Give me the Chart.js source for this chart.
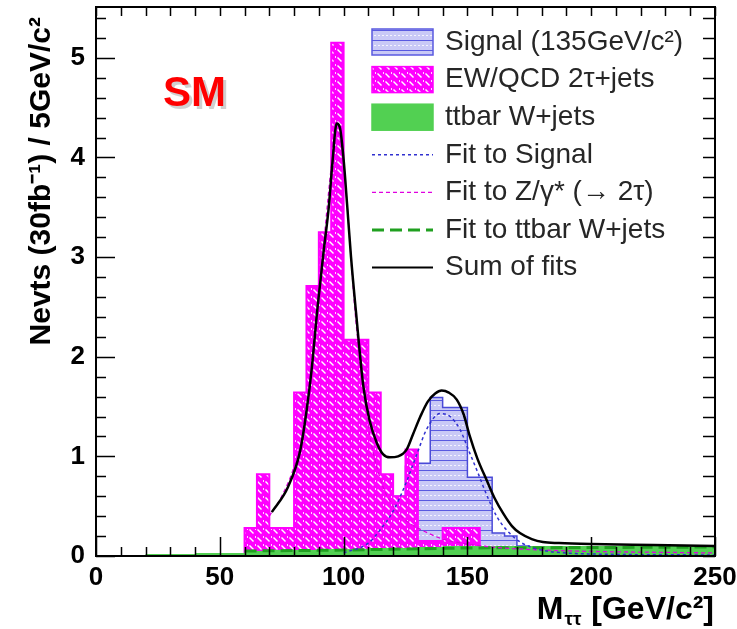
<!DOCTYPE html>
<html lang="en">
<head>
<meta charset="UTF-8">
<title>M tautau</title>
<script src="https://cdn.jsdelivr.net/npm/chart.js"></script>
<style>
  html, body { margin: 0; padding: 0; background: #fff; }
</style>
</head>
<body>
<canvas id="myChart" width="737" height="629"></canvas>
<script>
// histogram bins: low edge in GeV/c2, every bin is 5 wide
var binWidth = 5;

var signalLow  = [105, 110, 115, 120, 125, 130, 135, 140, 145, 150, 155, 160, 165, 170, 175];
var signalVals = [0.2, 0.3, 0.6, 0.6, 0.9, 0.93, 1.59, 1.49, 1.49, 0.79, 0.79, 0.23, 0.2, 0.1, 0.06];

var ewqcdLow  = [60, 65, 70, 75, 80, 85, 90, 95, 100, 105, 110, 115, 120, 125, 130, 135, 140, 145, 150];
var ewqcdVals = [0.28, 0.82, 0.28, 0.28, 1.64, 2.71, 3.25, 5.15, 2.17, 2.17, 1.64, 0.82, 0.6, 1.07, 0.15, 0.15, 0.28, 0.28, 0.28];

var ttbarLow  = [0, 5, 10, 15, 20, 25, 30, 35, 40, 45, 50, 55, 60, 65, 70, 75, 80, 85, 90, 95,
                 100, 105, 110, 115, 120, 125, 130, 135, 140, 145, 150, 155, 160, 165, 170, 175, 180, 185, 190, 195,
                 200, 205, 210, 215, 220, 225, 230, 235, 240, 245];
var ttbarVals = [0.01, 0.01, 0.01, 0.01, 0.02, 0.02, 0.02, 0.02, 0.03, 0.03, 0.03, 0.03, 0.05, 0.05, 0.06, 0.06, 0.06, 0.06, 0.07, 0.07,
                 0.07, 0.07, 0.08, 0.08, 0.08, 0.08, 0.09, 0.09, 0.1, 0.1, 0.1, 0.1, 0.1, 0.1, 0.1, 0.1, 0.1, 0.1, 0.1, 0.1,
                 0.1, 0.1, 0.1, 0.1, 0.1, 0.1, 0.1, 0.1, 0.1, 0.1];

// fit curves
var sumX = [71, 77.5, 82.5, 85, 87, 89.5, 92, 94, 95.5, 97.2, 98.5, 100, 101.5, 103, 105, 108, 110.5, 113.5, 116, 118.7, 122, 125.5, 128, 131, 134, 137, 139.6, 142.5, 145.7, 148.5, 151, 154, 157.8, 161, 164.4, 168, 171.2, 176, 180.5, 187, 200, 225, 250];
var sumY = [0.44, 0.69, 1.06, 1.45, 1.85, 2.5, 3.07, 3.5, 3.95, 4.34, 4.3, 3.98, 3.5, 3.0, 2.45, 1.7, 1.36, 1.13, 1.02, 0.99, 1.0, 1.07, 1.22, 1.4, 1.55, 1.63, 1.66, 1.64, 1.57, 1.42, 1.2, 0.98, 0.76, 0.58, 0.43, 0.3, 0.23, 0.17, 0.14, 0.13, 0.12, 0.11, 0.1];

var sigFitX = [100, 110, 115, 120, 125, 130, 133.5, 139, 143, 147, 151, 154, 158, 162, 167, 172, 180, 190, 200, 250];
var sigFitY = [0.03, 0.13, 0.27, 0.45, 0.72, 1.05, 1.27, 1.43, 1.4, 1.27, 1.03, 0.85, 0.6, 0.39, 0.23, 0.13, 0.06, 0.03, 0.02, 0.01];

var zFitX = [70, 75, 80, 85, 90, 95, 97.2, 100, 105, 110, 115, 120, 125, 130, 135, 140, 150, 160, 180, 250];
var zFitY = [0.4, 0.6, 0.9, 1.42, 2.6, 3.9, 4.28, 3.92, 2.35, 1.3, 0.76, 0.5, 0.36, 0.28, 0.22, 0.17, 0.12, 0.09, 0.06, 0.03];

var ttFitX = [60, 100, 150, 200, 250];
var ttFitY = [0.05, 0.06, 0.08, 0.085, 0.09];

var xTicks = [0, 50, 100, 150, 200, 250];
var yTicks = [0, 1, 2, 3, 4, 5];

var legendLabels = ['Signal (135GeV/c\u00B2)', 'EW/QCD 2\u03C4+jets', 'ttbar W+jets', 'Fit to Signal',
                    'Fit to Z/\u03B3* (\u2192 2\u03C4)', 'Fit to ttbar W+jets', 'Sum of fits'];

var fontFam = '"Liberation Sans", Arial, Helvetica, sans-serif';

function stepPts(lows, vals) {
  var pts = [{x: 0, y: 0}];
  for (var i = 0; i < lows.length; i++) pts.push({x: lows[i], y: vals[i]});
  pts.push({x: lows[lows.length - 1] + binWidth, y: 0});
  pts.push({x: 250, y: 0});
  return pts;
}
function curvePts(xs, ys) {
  return xs.map(function (x, i) { return {x: x, y: ys[i]}; });
}

// fill patterns
function pinkPattern() {
  var c = document.createElement('canvas'); c.width = 8; c.height = 8;
  var g = c.getContext('2d');
  g.fillStyle = '#ff00ff'; g.fillRect(0, 0, 8, 8);
  g.strokeStyle = '#ffffff'; g.lineWidth = 1.4;
  g.beginPath(); g.moveTo(1.5, 1.5); g.lineTo(5.5, 5.5); g.stroke();
  g.fillStyle = '#ffd6ff'; g.fillRect(7, 0, 1, 2);
  return g.createPattern(c, 'repeat');
}
function bluePattern() {
  var c = document.createElement('canvas'); c.width = 24; c.height = 10;
  var g = c.getContext('2d');
  g.fillStyle = 'rgba(195,195,245,0.9)'; g.fillRect(0, 0, 24, 10);
  g.fillStyle = '#5a5ae0'; g.fillRect(0, 0, 24, 1);
  g.fillStyle = 'rgba(255,255,255,0.8)';
  for (var k = 2; k < 24; k += 4) g.fillRect(k, 5, 2, 1);
  return g.createPattern(c, 'repeat');
}
var pinkFill = pinkPattern();
var blueFill = bluePattern();
var greenFill = '#52d052';

function line(label, xs, ys, color, width, dash) {
  return {
    label: label, data: curvePts(xs, ys), borderColor: color, borderWidth: width,
    borderDash: dash, pointRadius: 0, fill: false, cubicInterpolationMode: 'monotone'
  };
}
function hist(label, lows, vals, fillStyle, edge, width) {
  return {
    label: label, data: stepPts(lows, vals), stepped: true, fill: 'origin',
    backgroundColor: fillStyle, borderColor: edge, borderWidth: width, pointRadius: 0
  };
}

// frame with inward ticks on all four sides
var frameTicks = {
  id: 'frameTicks',
  afterDatasetsDraw: function (chart) {
    var ctx = chart.ctx, a = chart.chartArea, xs = chart.scales.x, ys = chart.scales.y;
    ctx.save();
    ctx.strokeStyle = '#000'; ctx.lineWidth = 1.5;
    ctx.beginPath();
    for (var i = 0; i <= 27; i++) {
      var py = Math.round(ys.getPixelForValue(i * 0.2)) + 0.5;
      var major = i % 5 === 0;
      ctx.moveTo(a.left, py); ctx.lineTo(a.left + (major ? 19 : 10), py);
      ctx.moveTo(a.right, py); ctx.lineTo(a.right - 12, py);
    }
    for (var j = 0; j <= 25; j++) {
      var px = Math.round(xs.getPixelForValue(j * 10)) + 0.5;
      var maj = j % 5 === 0;
      ctx.moveTo(px, a.bottom); ctx.lineTo(px, a.bottom - (maj ? 19 : 9));
      ctx.moveTo(px, a.top); ctx.lineTo(px, a.top + 9);
    }
    ctx.stroke();
    ctx.lineWidth = 2;
    ctx.strokeRect(a.left, a.top, a.right - a.left, a.bottom - a.top);
    ctx.restore();
  }
};

// legend, axis titles and the SM tag
var extras = {
  id: 'extras',
  afterDraw: function (chart) {
    var ctx = chart.ctx;
    ctx.save();

    // legend
    var x0 = 372, x1 = 433, tx = 445, y0 = 42, dy = 37.6;
    ctx.font = '28px ' + fontFam;
    ctx.textBaseline = 'middle';
    legendLabels.forEach(function (lab, i) {
      var yc = y0 + i * dy;
      if (i < 3) {
        var fills = [blueFill, pinkFill, greenFill], edges = ['#5a5ae0', '#ff00ff', '#52d052'];
        ctx.fillStyle = fills[i];
        ctx.fillRect(x0, yc - 13, x1 - x0, 26);
        ctx.strokeStyle = edges[i]; ctx.lineWidth = 1.5; ctx.setLineDash([]);
        ctx.strokeRect(x0, yc - 13, x1 - x0, 26);
      } else {
        var cols = ['#3030d0', '#e000e0', '#20a020', '#000'];
        var ws = [1.5, 1.3, 3, 2];
        var ds = [[3, 3], [4, 3], [12, 6], []];
        ctx.strokeStyle = cols[i - 3]; ctx.lineWidth = ws[i - 3]; ctx.setLineDash(ds[i - 3]);
        ctx.beginPath(); ctx.moveTo(x0, yc); ctx.lineTo(x1, yc); ctx.stroke();
        ctx.setLineDash([]);
      }
      ctx.fillStyle = '#262626';
      ctx.textAlign = 'left';
      ctx.fillText(lab, tx, yc);
    });

    // SM tag
    ctx.font = 'bold 42px ' + fontFam;
    ctx.textBaseline = 'alphabetic';
    ctx.fillStyle = 'rgba(120,120,120,0.35)';
    ctx.fillText('SM', 166, 109);
    ctx.fillStyle = '#ff0000';
    ctx.fillText('SM', 163, 106);

    // x title: M with tau-tau subscript
    ctx.fillStyle = '#000';
    var big = 'bold 32px ' + fontFam, small = 'bold 19px ' + fontFam;
    var tail = ' [GeV/c\u00B2]';
    ctx.font = big; var wM = ctx.measureText('M').width, wT = ctx.measureText(tail).width;
    ctx.font = small; var wS = ctx.measureText('\u03C4\u03C4').width;
    var xr = 714, base = 619, xs0 = xr - wT - wS - wM - 2;
    ctx.font = big; ctx.fillText('M', xs0, base);
    ctx.font = small; ctx.fillText('\u03C4\u03C4', xs0 + wM + 1, base + 6);
    ctx.font = big; ctx.fillText(tail, xs0 + wM + wS + 2, base);

    // y title
    ctx.translate(50, 17);
    ctx.rotate(-Math.PI / 2);
    ctx.font = 'bold 30px ' + fontFam;
    ctx.textAlign = 'right';
    ctx.fillText('Nevts (30fb\u207B\u00B9) / 5GeV/c\u00B2', 0, 0);
    ctx.restore();
  }
};

new Chart(document.getElementById('myChart'), {
  type: 'line',
  data: {
    datasets: [
      line('Sum of fits', sumX, sumY, '#000', 2.5, []),
      line('Fit to Signal', sigFitX, sigFitY, '#3030d0', 1.5, [3, 3]),
      line('Fit to Z', zFitX, zFitY, '#e000e0', 1.3, [4, 3]),
      line('Fit to ttbar W+jets', ttFitX, ttFitY, '#20a020', 3, [12, 6]),
      hist('ttbar W+jets', ttbarLow, ttbarVals, greenFill, greenFill, 0),
      hist('EW/QCD 2tau+jets', ewqcdLow, ewqcdVals, pinkFill, '#ff00ff', 2),
      hist('Signal', signalLow, signalVals, blueFill, '#4a4ad8', 1.5)
    ]
  },
  options: {
    responsive: false,
    animation: false,
    devicePixelRatio: 1,
    layout: { padding: { top: 7, right: 22, left: 0, bottom: 0 } },
    plugins: { legend: { display: false }, tooltip: { enabled: false } },
    scales: {
      x: {
        type: 'linear', min: 0, max: 250,
        afterFit: function (s) { s.height = 73; s.paddingLeft = 0; s.paddingRight = 0; },
        afterBuildTicks: function (s) { s.ticks = xTicks.map(function (v) { return {value: v}; }); },
        grid: { display: false, drawTicks: false }, border: { display: false },
        ticks: { color: '#000', padding: 6, maxRotation: 0, autoSkip: false,
                 font: { family: fontFam, size: 26, weight: 'bold' } }
      },
      y: {
        type: 'linear', min: 0, max: 5.51,
        afterFit: function (s) { s.width = 96; s.paddingTop = 0; s.paddingBottom = 0; },
        afterBuildTicks: function (s) { s.ticks = yTicks.map(function (v) { return {value: v}; }); },
        grid: { display: false, drawTicks: false }, border: { display: false },
        ticks: { color: '#000', padding: 11,
                 font: { family: fontFam, size: 26, weight: 'bold' } }
      }
    }
  },
  plugins: [frameTicks, extras]
});
</script>
</body>
</html>
